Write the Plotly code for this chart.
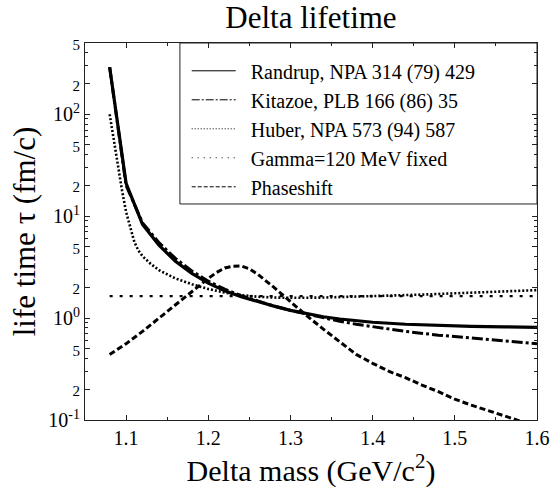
import plotly.graph_objects as go

# ---- data ----
mass_randrup = [1.08, 1.10, 1.12, 1.14, 1.16, 1.18, 1.20, 1.22, 1.24, 1.26, 1.28, 1.30,
                1.32, 1.34, 1.36, 1.38, 1.40, 1.44, 1.48, 1.52, 1.56, 1.60]
tau_randrup = [290, 21, 8.3, 5.2, 3.6, 2.75, 2.2, 1.85, 1.62, 1.45, 1.31, 1.19,
               1.10, 1.03, 0.98, 0.94, 0.91, 0.87, 0.845, 0.83, 0.82, 0.81]

mass_kitazoe = [1.08, 1.10, 1.12, 1.14, 1.16, 1.18, 1.20, 1.22, 1.24, 1.26, 1.28, 1.30,
                1.32, 1.34, 1.36, 1.38, 1.40, 1.44, 1.48, 1.52, 1.56, 1.60]
tau_kitazoe = [290, 20, 8.6, 5.5, 3.85, 2.9, 2.3, 1.92, 1.66, 1.47, 1.31, 1.19,
               1.09, 1.01, 0.93, 0.87, 0.82, 0.74, 0.68, 0.64, 0.60, 0.56]

mass_huber = [1.08, 1.085, 1.09, 1.095, 1.10, 1.105, 1.11, 1.115, 1.12, 1.13, 1.14, 1.16,
              1.18, 1.20, 1.22, 1.24, 1.26, 1.28, 1.30, 1.34, 1.38, 1.42, 1.46, 1.50,
              1.55, 1.60]
tau_huber = [100, 55, 30, 18, 11, 7.6, 5.6, 4.6, 4.05, 3.4, 2.95, 2.45,
             2.15, 1.93, 1.78, 1.68, 1.62, 1.59, 1.58, 1.59, 1.62, 1.66, 1.70, 1.75,
             1.81, 1.88]

mass_fixed = [1.08, 1.60]
tau_fixed = [1.644, 1.644]

mass_phase = [1.08, 1.10, 1.12, 1.14, 1.16, 1.18, 1.20, 1.21, 1.22, 1.23, 1.24, 1.25, 1.26,
              1.28, 1.30, 1.32, 1.34, 1.36, 1.38, 1.40, 1.42, 1.44, 1.46, 1.48, 1.50,
              1.52, 1.54, 1.56, 1.58, 1.60]
tau_phase = [0.44, 0.56, 0.74, 1.0, 1.35, 1.85, 2.45, 2.8, 3.1, 3.22, 3.24, 3.05, 2.7,
             2.0, 1.45, 1.05, 0.78, 0.58, 0.44, 0.36, 0.30, 0.26, 0.22, 0.19, 0.16,
             0.14, 0.125, 0.11, 0.097, 0.085]

names = ["Randrup, NPA 314 (79) 429", "Kitazoe, PLB 166 (86) 35", "Huber, NPA 573 (94) 587",
         "Gamma=120 MeV fixed", "Phaseshift"]

y_tickvals = [0.1, 0.2, 0.5, 1, 2, 5, 10, 20, 50, 100, 200, 500]
y_ticktext = ["10<sup>-1</sup>", "2", "5", "10<sup>0</sup>", "2", "5",
              "10<sup>1</sup>", "2", "5", "10<sup>2</sup>", "2", "5"]
x_tickvals = [1.1, 1.2, 1.3, 1.4, 1.5, 1.6]
x_ticktext = ["1.1", "1.2", "1.3", "1.4", "1.5", "1.6"]

FONT = "Liberation Serif"
small = '<span style="font-size:15px">%s</span>'
y_ticktext = [t if "sup" in t else small % t for t in y_ticktext]

y_minor = []
for dec in [0.1, 1, 10, 100]:
    for m in [3, 4, 6, 7, 8, 9]:
        v = dec * m
        if v < 500:
            y_minor.append(v)

fig = go.Figure()

styles = [
    dict(dash="solid", width=3.2),
    dict(dash="11px,3px,3px,3px", width=3),
    dict(dash="2px,2px", width=2.6),
    dict(dash="3px,7px", width=2.2),
    dict(dash="6px,3px", width=3),
]
legend_styles = [
    dict(dash="solid", width=1),
    dict(dash="8px,2px,2px,2px", width=1),
    dict(dash="1px,2px", width=1),
    dict(dash="1px,5px", width=1),
    dict(dash="4px,2px", width=1),
]
series = [(mass_randrup, tau_randrup), (mass_kitazoe, tau_kitazoe), (mass_huber, tau_huber),
          (mass_fixed, tau_fixed), (mass_phase, tau_phase)]

for (xs, ys), st in zip(series, styles):
    fig.add_trace(go.Scatter(x=xs, y=ys, mode="lines", showlegend=False,
                             line=dict(color="black", **st), hoverinfo="skip"))
for nm, st in zip(names, legend_styles):
    fig.add_trace(go.Scatter(x=[None], y=[None], mode="lines", name="\u00a0\u00a0" + nm,
                             line=dict(color="black", **st)))

axis_common = dict(showline=True, linecolor="#222", linewidth=1, mirror="ticks",
                   ticks="inside", tickcolor="#222", showgrid=False, zeroline=False,
                   automargin=False,
                   tickfont=dict(family=FONT, size=20, color="black"))

fig.update_xaxes(range=[1.05, 1.6], tickvals=x_tickvals, ticktext=x_ticktext, ticklen=5,
                 minor=dict(tickvals=[1.15, 1.25, 1.35, 1.45, 1.55], ticklen=3,
                            ticks="inside", tickcolor="#222"),
                 title=dict(text="Delta mass (GeV/c<sup>2</sup>)",
                            font=dict(family=FONT, size=30, color="black"), standoff=6),
                 **axis_common)
fig.update_yaxes(type="log", range=[-1, 2.69897], tickvals=y_tickvals, ticktext=y_ticktext,
                 ticklen=5,
                 minor=dict(tickvals=y_minor, ticklen=3, ticks="inside", tickcolor="#222"),
                 title=dict(text="life time \u03c4 (fm/c)",
                            font=dict(family=FONT, size=31, color="black"), standoff=3),
                 **axis_common)

fig.add_shape(type="rect", xref="paper", yref="paper", x0=0.21, x1=1.0, y0=0.573, y1=1.0,
              line=dict(color="#222", width=1), fillcolor="rgba(0,0,0,0)")

fig.update_layout(
    width=550, height=495,
    margin=dict(l=85, r=13, t=43, b=75),
    paper_bgcolor="white", plot_bgcolor="white",
    title=dict(text="Delta lifetime", x=0.5, xref="paper", y=0.965, yanchor="middle",
               font=dict(family=FONT, size=31, color="black")),
    legend=dict(x=0.225, y=0.978, xanchor="left", yanchor="top", bgcolor="rgba(0,0,0,0)",
                borderwidth=0, itemwidth=44, tracegroupgap=0,
                font=dict(family=FONT, size=20, color="black")),
    showlegend=True,
)

fig.write_html("out.html")
